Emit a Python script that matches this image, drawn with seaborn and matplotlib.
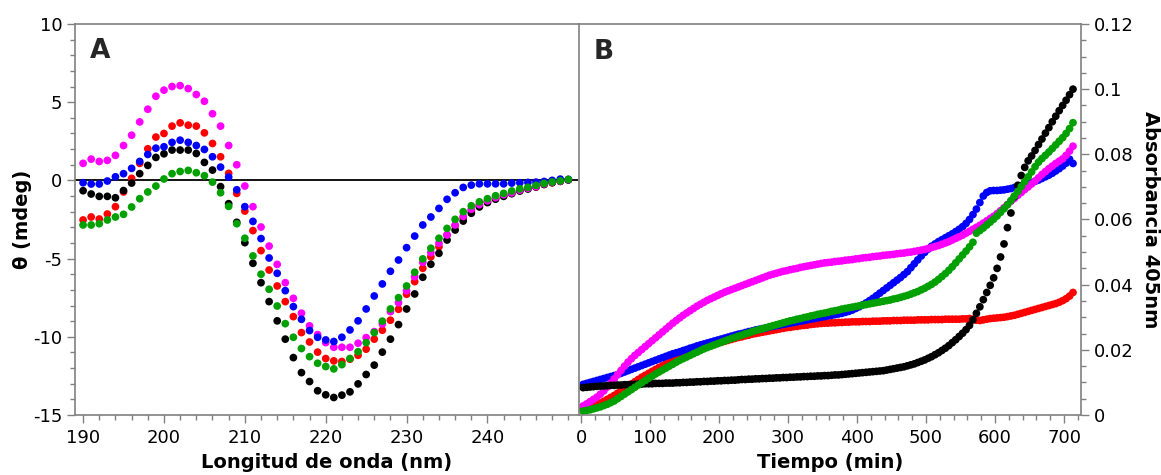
import numpy as np
import pandas as pd
import matplotlib
matplotlib.use("Agg")
import matplotlib.pyplot as plt
import seaborn as sns
from matplotlib.ticker import MultipleLocator, FuncFormatter

# ---- Panel A: CD spectra, one point per nm (190-250 nm)
wavelength = np.arange(190, 251)

cd_magenta = [
    1.09, 1.36, 1.21, 1.28, 1.60, 2.23, 2.89, 3.74, 4.55, 5.38,
    5.77, 6.00, 6.06, 5.87, 5.49, 5.06, 4.26, 3.47, 2.23, 1.00,
    -0.36, -1.68, -2.98, -4.20, -5.37, -6.54, -7.54, -8.49, -9.30, -9.86,
    -10.37, -10.67, -10.67, -10.67, -10.41, -10.05, -9.67, -9.18, -8.39, -7.82,
    -7.05, -6.16, -5.24, -4.62, -4.02, -3.49, -2.85, -2.30, -1.85, -1.55,
    -1.30, -1.10, -0.92, -0.80, -0.62, -0.50, -0.40, -0.22, -0.12, -0.04,
    0.05]
cd_red = [
    -2.53, -2.34, -2.47, -2.15, -1.68, -0.74, 0.13, 1.09, 2.02, 2.77,
    3.00, 3.47, 3.68, 3.53, 3.47, 3.04, 2.36, 1.51, 0.45, -0.83,
    -1.96, -3.21, -4.49, -5.73, -6.75, -7.75, -8.71, -9.73, -10.33, -10.98,
    -11.39, -11.54, -11.58, -11.43, -11.18, -10.79, -10.15, -9.58, -8.94, -8.24,
    -7.28, -6.47, -5.62, -4.88, -4.24, -3.49, -2.90, -2.40, -1.95, -1.60,
    -1.35, -1.15, -0.98, -0.82, -0.65, -0.52, -0.42, -0.25, -0.14, -0.06,
    0.04]
cd_blue = [
    -0.15, -0.23, -0.23, -0.04, 0.23, 0.43, 0.77, 1.21, 1.66, 2.06,
    2.15, 2.43, 2.57, 2.43, 2.23, 1.98, 1.51, 0.85, 0.21, -0.60,
    -1.68, -2.62, -3.72, -4.96, -5.94, -7.05, -8.07, -8.88, -9.60, -10.03,
    -10.20, -10.30, -10.03, -9.56, -8.98, -8.22, -7.39, -6.62, -5.81, -5.09,
    -4.30, -3.56, -2.85, -2.34, -1.79, -1.21, -0.79, -0.45, -0.30, -0.22,
    -0.22, -0.22, -0.22, -0.17, -0.15, -0.13, -0.11, -0.07, 0.00, 0.08,
    0.06]
cd_black = [
    -0.66, -0.87, -1.02, -1.02, -1.11, -0.65, -0.17, 0.43, 0.96, 1.47,
    1.70, 1.94, 1.94, 1.94, 1.72, 1.15, 0.66, -0.40, -1.49, -2.68,
    -3.98, -5.30, -6.54, -7.75, -8.98, -10.15, -11.33, -12.29, -12.86, -13.45,
    -13.71, -13.88, -13.73, -13.52, -13.01, -12.41, -11.81, -10.98, -10.15, -9.22,
    -8.22, -7.26, -6.19, -5.36, -4.66, -3.81, -3.17, -2.60, -2.10, -1.70,
    -1.42, -1.20, -1.02, -0.85, -0.68, -0.55, -0.42, -0.26, -0.15, -0.06,
    0.03]
cd_green = [
    -2.85, -2.85, -2.77, -2.53, -2.34, -2.17, -1.70, -1.17, -0.74, -0.36,
    0.09, 0.43, 0.57, 0.64, 0.49, 0.30, -0.11, -0.79, -1.66, -2.77,
    -3.70, -4.83, -6.00, -6.96, -8.03, -9.16, -10.03, -10.75, -11.27, -11.69,
    -11.90, -12.05, -11.78, -11.39, -10.95, -10.37, -9.73, -9.00, -8.22, -7.50,
    -6.75, -5.87, -5.02, -4.34, -3.70, -3.07, -2.49, -2.00, -1.62, -1.37,
    -1.17, -0.98, -0.83, -0.68, -0.54, -0.44, -0.32, -0.19, -0.10, -0.03,
    0.06]

# ---- Panel B: absorbance at 405 nm, one reading every 5 min
time_min = np.arange(3, 714, 5)

abs_magenta = [
    0.0028, 0.0034, 0.0041, 0.0048, 0.0055, 0.0064, 0.0074, 0.0086, 0.0098, 0.0111,
    0.0124, 0.0137, 0.0150, 0.0162, 0.0173, 0.0183, 0.0192, 0.0201, 0.0210, 0.0219,
    0.0228, 0.0237, 0.0246, 0.0255, 0.0264, 0.0273, 0.0282, 0.0290, 0.0298, 0.0306,
    0.0313, 0.0320, 0.0327, 0.0334, 0.0340, 0.0346, 0.0352, 0.0357, 0.0362, 0.0367,
    0.0372, 0.0377, 0.0381, 0.0385, 0.0389, 0.0393, 0.0397, 0.0401, 0.0405, 0.0409,
    0.0413, 0.0417, 0.0421, 0.0425, 0.0429, 0.0432, 0.0435, 0.0438, 0.0441, 0.0443,
    0.0446, 0.0448, 0.0450, 0.0453, 0.0455, 0.0457, 0.0459, 0.0461, 0.0463, 0.0465,
    0.0467, 0.0468, 0.0469, 0.0471, 0.0472, 0.0473, 0.0475, 0.0476, 0.0477, 0.0479,
    0.0480, 0.0482, 0.0483, 0.0484, 0.0486, 0.0487, 0.0488, 0.0490, 0.0491, 0.0492,
    0.0493, 0.0495, 0.0496, 0.0497, 0.0499, 0.0500, 0.0502, 0.0504, 0.0506, 0.0508,
    0.0511, 0.0514, 0.0517, 0.0520, 0.0524, 0.0528, 0.0532, 0.0537, 0.0542, 0.0547,
    0.0552, 0.0558, 0.0564, 0.0570, 0.0576, 0.0582, 0.0589, 0.0596, 0.0603, 0.0610,
    0.0618, 0.0627, 0.0636, 0.0646, 0.0656, 0.0665, 0.0674, 0.0683, 0.0692, 0.0700,
    0.0709, 0.0718, 0.0728, 0.0738, 0.0747, 0.0756, 0.0764, 0.0772, 0.0779, 0.0786,
    0.0797, 0.0810, 0.0825]
abs_blue = [
    0.0094, 0.0097, 0.0100, 0.0103, 0.0106, 0.0109, 0.0112, 0.0115, 0.0118, 0.0121,
    0.0124, 0.0128, 0.0132, 0.0136, 0.0140, 0.0144, 0.0148, 0.0152, 0.0156, 0.0160,
    0.0164, 0.0168, 0.0172, 0.0176, 0.0180, 0.0184, 0.0188, 0.0191, 0.0194, 0.0198,
    0.0201, 0.0205, 0.0208, 0.0212, 0.0215, 0.0218, 0.0221, 0.0224, 0.0227, 0.0230,
    0.0233, 0.0236, 0.0239, 0.0242, 0.0245, 0.0248, 0.0250, 0.0253, 0.0256, 0.0258,
    0.0261, 0.0263, 0.0265, 0.0267, 0.0270, 0.0272, 0.0274, 0.0276, 0.0278, 0.0280,
    0.0282, 0.0284, 0.0286, 0.0288, 0.0290, 0.0292, 0.0294, 0.0296, 0.0298, 0.0300,
    0.0302, 0.0304, 0.0306, 0.0308, 0.0310, 0.0312, 0.0315, 0.0318, 0.0322, 0.0327,
    0.0332, 0.0338, 0.0344, 0.0351, 0.0358, 0.0366, 0.0374, 0.0382, 0.0390, 0.0398,
    0.0406, 0.0414, 0.0422, 0.0431, 0.0440, 0.0452, 0.0464, 0.0476, 0.0488, 0.0499,
    0.0509, 0.0518, 0.0525, 0.0532, 0.0538, 0.0544, 0.0550, 0.0556, 0.0563, 0.0570,
    0.0578, 0.0588, 0.0600, 0.0615, 0.0632, 0.0652, 0.0672, 0.0683, 0.0688, 0.0689,
    0.0689, 0.0690, 0.0691, 0.0693, 0.0695, 0.0698, 0.0700, 0.0703, 0.0705, 0.0709,
    0.0713, 0.0717, 0.0721, 0.0726, 0.0731, 0.0736, 0.0742, 0.0749, 0.0756, 0.0764,
    0.0773, 0.0785, 0.0772]
abs_black = [
    0.0084, 0.0085, 0.0086, 0.0087, 0.0088, 0.0089, 0.0089, 0.0090, 0.0091, 0.0091,
    0.0092, 0.0092, 0.0093, 0.0093, 0.0094, 0.0094, 0.0095, 0.0095, 0.0096, 0.0096,
    0.0096, 0.0097, 0.0097, 0.0097, 0.0098, 0.0098, 0.0098, 0.0099, 0.0099, 0.0100,
    0.0100, 0.0101, 0.0101, 0.0102, 0.0102, 0.0103, 0.0103, 0.0104, 0.0104, 0.0105,
    0.0105, 0.0106, 0.0106, 0.0107, 0.0107, 0.0108, 0.0109, 0.0109, 0.0110, 0.0110,
    0.0111, 0.0111, 0.0112, 0.0112, 0.0113, 0.0113, 0.0114, 0.0114, 0.0115, 0.0115,
    0.0116, 0.0116, 0.0117, 0.0117, 0.0118, 0.0118, 0.0119, 0.0119, 0.0120, 0.0120,
    0.0121, 0.0121, 0.0122, 0.0123, 0.0123, 0.0124, 0.0125, 0.0126, 0.0127, 0.0128,
    0.0129, 0.0130, 0.0131, 0.0132, 0.0133, 0.0134, 0.0135, 0.0136, 0.0138, 0.0140,
    0.0142, 0.0144, 0.0146, 0.0148, 0.0151, 0.0154, 0.0157, 0.0161, 0.0165, 0.0169,
    0.0174, 0.0179, 0.0185, 0.0191, 0.0198, 0.0205, 0.0213, 0.0222, 0.0231, 0.0241,
    0.0251, 0.0262, 0.0275, 0.0292, 0.0312, 0.0332, 0.0354, 0.0376, 0.0398, 0.0421,
    0.0450, 0.0485, 0.0525, 0.0575, 0.0620, 0.0670, 0.0705, 0.0735, 0.0760, 0.0780,
    0.0795, 0.0812, 0.0830, 0.0847, 0.0865, 0.0882, 0.0900, 0.0917, 0.0934, 0.0950,
    0.0966, 0.0983, 0.1000]
abs_green = [
    0.0012, 0.0014, 0.0016, 0.0019, 0.0022, 0.0025, 0.0029, 0.0033, 0.0038, 0.0043,
    0.0050, 0.0057, 0.0064, 0.0071, 0.0078, 0.0085, 0.0092, 0.0099, 0.0106, 0.0113,
    0.0119, 0.0126, 0.0132, 0.0138, 0.0144, 0.0150, 0.0156, 0.0162, 0.0168, 0.0173,
    0.0178, 0.0183, 0.0188, 0.0193, 0.0198, 0.0203, 0.0207, 0.0211, 0.0215, 0.0219,
    0.0223, 0.0227, 0.0231, 0.0235, 0.0238, 0.0242, 0.0245, 0.0249, 0.0252, 0.0256,
    0.0259, 0.0262, 0.0265, 0.0268, 0.0271, 0.0274, 0.0277, 0.0280, 0.0283, 0.0286,
    0.0289, 0.0291, 0.0294, 0.0296, 0.0299, 0.0301, 0.0304, 0.0306, 0.0309, 0.0311,
    0.0313, 0.0315, 0.0318, 0.0320, 0.0322, 0.0325, 0.0327, 0.0329, 0.0331, 0.0333,
    0.0335, 0.0337, 0.0339, 0.0341, 0.0343, 0.0345, 0.0347, 0.0349, 0.0351, 0.0353,
    0.0356, 0.0358, 0.0361, 0.0364, 0.0367, 0.0371, 0.0375, 0.0379, 0.0384, 0.0389,
    0.0395, 0.0401, 0.0408, 0.0416, 0.0425, 0.0434, 0.0444, 0.0455, 0.0467, 0.0479,
    0.0491, 0.0503, 0.0516, 0.0530, 0.0558, 0.0566, 0.0574, 0.0583, 0.0592, 0.0601,
    0.0611, 0.0622, 0.0633, 0.0645, 0.0658, 0.0672, 0.0686, 0.0701, 0.0716, 0.0731,
    0.0746, 0.0762, 0.0776, 0.0787, 0.0797, 0.0807, 0.0818, 0.0829, 0.0840, 0.0851,
    0.0864, 0.0879, 0.0897]
abs_red = [
    0.0018, 0.0021, 0.0024, 0.0028, 0.0032, 0.0037, 0.0042, 0.0048, 0.0054, 0.0060,
    0.0067, 0.0074, 0.0081, 0.0088, 0.0095, 0.0102, 0.0109, 0.0116, 0.0122, 0.0128,
    0.0134, 0.0140, 0.0146, 0.0151, 0.0157, 0.0162, 0.0167, 0.0172, 0.0177, 0.0182,
    0.0186, 0.0190, 0.0194, 0.0198, 0.0202, 0.0206, 0.0210, 0.0213, 0.0217, 0.0220,
    0.0223, 0.0226, 0.0229, 0.0232, 0.0235, 0.0238, 0.0240, 0.0243, 0.0245, 0.0248,
    0.0250, 0.0252, 0.0254, 0.0256, 0.0258, 0.0260, 0.0262, 0.0264, 0.0266, 0.0268,
    0.0269, 0.0271, 0.0272, 0.0274, 0.0275, 0.0276, 0.0278, 0.0279, 0.0280, 0.0281,
    0.0282, 0.0282, 0.0283, 0.0283, 0.0284, 0.0284, 0.0285, 0.0285, 0.0286, 0.0286,
    0.0286, 0.0287, 0.0287, 0.0287, 0.0288, 0.0288, 0.0288, 0.0289, 0.0289, 0.0289,
    0.0290, 0.0290, 0.0290, 0.0291, 0.0291, 0.0291, 0.0291, 0.0292, 0.0292, 0.0292,
    0.0292, 0.0293, 0.0293, 0.0293, 0.0293, 0.0294, 0.0294, 0.0294, 0.0294, 0.0294,
    0.0295, 0.0295, 0.0296, 0.0294, 0.0291, 0.0290, 0.0292, 0.0294, 0.0296, 0.0297,
    0.0298, 0.0299, 0.0300, 0.0302, 0.0304, 0.0306, 0.0309, 0.0312, 0.0315, 0.0318,
    0.0321, 0.0324, 0.0327, 0.0330, 0.0333, 0.0336, 0.0339, 0.0342, 0.0346, 0.0351,
    0.0357, 0.0365, 0.0376]

colors = {"magenta": "#ff00ff", "red": "#ff0000", "blue": "#0000ff",
          "black": "#000000", "green": "#00a000"}

# long-form tables; row order sets which series is drawn on top
cd_series = [("red", cd_red), ("black", cd_black), ("magenta", cd_magenta),
             ("blue", cd_blue), ("green", cd_green)]
df_cd = pd.concat([pd.DataFrame({"wl": wavelength, "theta": v, "serie": k})
                   for k, v in cd_series], ignore_index=True)

abs_series = [("red", abs_red), ("blue", abs_blue), ("magenta", abs_magenta),
              ("black", abs_black), ("green", abs_green)]
df_abs = pd.concat([pd.DataFrame({"t": time_min, "abs": v, "serie": k})
                    for k, v in abs_series], ignore_index=True)

sns.set_theme(style="ticks")
plt.rcParams["font.family"] = ["DejaVu Sans"]
plt.rcParams["axes.unicode_minus"] = False

gray = "#808080"
fig = plt.figure(figsize=(11.61, 4.75), dpi=100)
axA = fig.add_axes([0.0646, 0.1263, 0.4333, 0.8232])
axB = fig.add_axes([0.4987, 0.1263, 0.4324, 0.8232])

sns.scatterplot(data=df_cd, x="wl", y="theta", hue="serie", palette=colors,
                s=31, linewidth=0, legend=False, ax=axA)
axA.axhline(0, color="black", lw=1.3, zorder=0.5)

sns.scatterplot(data=df_abs, x="t", y="abs", hue="serie", palette=colors,
                s=31, linewidth=0, legend=False, ax=axB)

# panel A axes
axA.set_xlim(189, 251.2)
axA.set_ylim(-15, 10)
axA.xaxis.set_major_locator(plt.FixedLocator(range(190, 250, 10)))
axA.xaxis.set_minor_locator(MultipleLocator(2))
axA.yaxis.set_major_locator(MultipleLocator(5))
axA.yaxis.set_minor_locator(MultipleLocator(1))

# panel B axes
axB.set_xlim(-3, 724.6)
axB.set_ylim(0, 0.12)
axB.xaxis.set_major_locator(MultipleLocator(100))
axB.xaxis.set_minor_locator(MultipleLocator(20))
axB.yaxis.set_major_locator(MultipleLocator(0.02))
axB.yaxis.set_minor_locator(MultipleLocator(0.005))
axB.yaxis.tick_right()
axB.yaxis.set_label_position("right")
axB.yaxis.set_major_formatter(FuncFormatter(lambda v, p: f"{v:g}"))

for ax in (axA, axB):
    for sp in ax.spines.values():
        sp.set_visible(True)
        sp.set_color(gray)
        sp.set_linewidth(1.2)
    ax.tick_params(which="both", direction="out", color=gray, width=1,
                   labelsize=13, labelcolor="black")
    ax.tick_params(which="major", length=6)
    ax.tick_params(which="minor", length=3.3)
    ax.tick_params(axis="x", pad=4)
    ax.tick_params(axis="y", pad=3)
    ax.set_facecolor("white")

axA.spines["right"].set_visible(False)
axA.tick_params(which="both", top=False, right=False)
axB.tick_params(which="both", top=False, left=False, right=True)

lab = dict(fontsize=14, fontweight="bold", color="black")
axA.set_xlabel("Longitud de onda (nm)", **lab)
axA.set_ylabel("θ (mdeg)", **lab)
axB.set_xlabel("Tiempo (min)", **lab)
axB.set_ylabel("Absorbancia 405nm", rotation=270, va="bottom", **lab)
axA.xaxis.set_label_coords(0.5, -0.097)
axB.xaxis.set_label_coords(0.5, -0.097)
axA.yaxis.set_label_coords(-0.086, 0.5)
axB.yaxis.set_label_coords(1.12, 0.5)

axA.text(0.03, 0.965, "A", transform=axA.transAxes, fontsize=19,
         fontweight="bold", va="top", ha="left")
axB.text(0.029, 0.962, "B", transform=axB.transAxes, fontsize=19,
         fontweight="bold", va="top", ha="left")

fig.savefig("out.png", dpi=100, facecolor="white")
